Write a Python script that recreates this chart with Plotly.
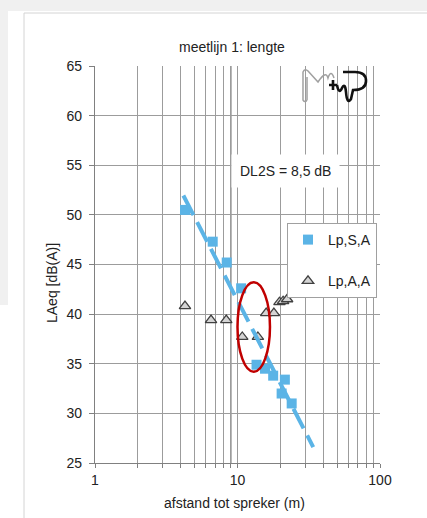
import plotly.graph_objects as go

# ---------------- data ----------------
title_text = "meetlijn 1: lengte"
x_title = "afstand tot spreker (m)"
y_title = "LAeq [dB(A)]"
note_text = "DL2S = 8,5 dB"

# Lp,S,A  (blue squares)
s_dist = [4.28, 6.7, 8.4, 10.6, 13.6, 15.6, 17.8, 21.5, 20.4, 24.0]
s_level = [50.5, 47.3, 45.2, 42.6, 34.9, 34.5, 33.8, 33.4, 32.0, 31.0]

# Lp,A,A  (triangles)
a_dist = [4.28, 6.52, 8.34, 10.8, 13.9, 15.9, 18.0, 19.7, 20.9, 22.3]
a_level = [40.8, 39.4, 39.4, 37.7, 37.7, 40.1, 40.1, 41.2, 41.3, 41.5]

# dashed regression line (end points)
fit_dist = [4.17, 34.0]
fit_level = [51.95, 26.6]

# highlighted region (red ellipse)
ell_dist = [10.0, 16.9]
ell_level = [34.2, 43.2]

x_tickvals = [1, 10, 100]
y_tickvals = [25, 30, 35, 40, 45, 50, 55, 60, 65]

# ---------------- figure ----------------
W, H = 427, 518
L, R, T, B = 95, 47, 66, 55
PW, PH = W - L - R, H - T - B

def px(x):
    return (x - L) / PW

def py(y):
    return (H - B - y) / PH

BLUE = "#5bb4e6"
GRID = "#9c9c9c"
AXIS = "#808080"
TXT = "#404040"
FONT = "Liberation Sans, Arial, sans-serif"

fig = go.Figure()

fig.add_trace(go.Scatter(
    x=s_dist, y=s_level, mode="markers", name="Lp,S,A",
    legendgroup="s",
    marker=dict(symbol="square", size=10, color=BLUE, line=dict(width=0)),
))
fig.add_trace(go.Scatter(
    x=a_dist, y=a_level, mode="markers", name="Lp,A,A",
    legendgroup="a",
    marker=dict(symbol="triangle-up", size=10, color="#d4d4d4",
                line=dict(width=1.3, color="#404040")),
))
fig.add_trace(go.Scatter(
    x=fit_dist, y=fit_level, mode="lines", showlegend=False,
    line=dict(color=BLUE, width=4, dash="22px,8px"),
))

shapes = []
# page background pieces
shapes.append(dict(type="rect", xref="paper", yref="paper", x0=px(0), x1=px(W),
                   y0=py(0), y1=py(11), fillcolor="#f0f0f0", line=dict(width=0), layer="below"))
shapes.append(dict(type="rect", xref="paper", yref="paper", x0=px(0), x1=px(8),
                   y0=py(0), y1=py(305), fillcolor="#f0f0f0", line=dict(width=0), layer="below"))
shapes.append(dict(type="line", xref="paper", yref="paper", x0=px(24), x1=px(24),
                   y0=py(13), y1=py(H), line=dict(color="#d4d4d4", width=1), layer="below"))
shapes.append(dict(type="line", xref="paper", yref="paper", x0=px(24), x1=px(W),
                   y0=py(13), y1=py(13), line=dict(color="#d4d4d4", width=1), layer="below"))
# darker grid line near 10
shapes.append(dict(type="line", xref="x", yref="paper", x0=9, x1=9, y0=0, y1=1,
                   line=dict(color="#6a6a6a", width=1), layer="below"))
# red ellipse
shapes.append(dict(type="circle", xref="x", yref="y", x0=ell_dist[0], x1=ell_dist[1],
                   y0=ell_level[0], y1=ell_level[1], line=dict(color="#c00000", width=2.5)))

# logo (decoration)
def path(points):
    s = ""
    for cmd, pts in points:
        s += cmd + " " + " ".join(f"{px(a):.4f},{py(b):.4f}" for a, b in pts) + " "
    return s.strip()

gray_logo = path([
    ("M", [(307, 100)]), ("Q", [(305, 103), (303, 100)]), ("L", [(303, 72)]),
    ("Q", [(305, 68), (308, 71)]), ("L", [(318, 82), (323, 74)]),
    ("Q", [(326, 70), (328, 78)]), ("Q", [(331, 69), (334, 78)]),
    ("M", [(307, 100)]), ("L", [(307, 77), (318, 88), (323, 80)]),
])
black_logo = path([
    ("M", [(329, 85)]), ("L", [(337, 85)]),
    ("M", [(333, 80)]), ("L", [(333, 90)]),
    ("M", [(337, 85)]), ("Q", [(339, 95), (342, 88)]),
    ("Q", [(345, 82), (346, 92)]), ("Q", [(347, 105), (351, 99)]),
    ("L", [(353, 90)]), ("Q", [(366, 90), (366, 81)]),
    ("Q", [(366, 72), (355, 72)]), ("L", [(343, 72)]),
])
shapes.append(dict(type="path", xref="paper", yref="paper", path=gray_logo,
                   line=dict(color="#a0a0a0", width=1.5)))
shapes.append(dict(type="path", xref="paper", yref="paper", path=black_logo,
                   line=dict(color="#111111", width=2.6)))

annotations = [
    dict(text=title_text, xref="paper", yref="paper", x=px(232), y=py(47),
         showarrow=False, font=dict(size=14, color="#222222", family=FONT),
         xanchor="center", yanchor="middle"),
    dict(text=x_title, xref="paper", yref="paper", x=px(234), y=py(503),
         showarrow=False, font=dict(size=14, color="#222222", family=FONT),
         xanchor="center", yanchor="middle"),
    dict(text=y_title, xref="paper", yref="paper", x=px(52), y=py(283),
         showarrow=False, textangle=-90, font=dict(size=14, color="#222222", family=FONT),
         xanchor="center", yanchor="middle"),
    dict(text=note_text, xref="paper", yref="paper", x=px(285), y=py(171),
         showarrow=False, font=dict(size=14, color="#222222", family=FONT),
         xanchor="center", yanchor="middle", bgcolor="white", borderpad=8),
]

fig.update_layout(
    width=W, height=H,
    margin=dict(l=L, r=R, t=T, b=B, pad=0),
    paper_bgcolor="white", plot_bgcolor="white",
    font=dict(family=FONT, size=14, color=TXT),
    showlegend=True,
    legend=dict(x=px(287), y=py(223), xanchor="left", yanchor="top",
                bgcolor="white", bordercolor="#a0a0a0", borderwidth=1,
                font=dict(size=14, color="#222222", family=FONT),
                traceorder="grouped", tracegroupgap=20, itemwidth=30),
    shapes=shapes,
    annotations=annotations,
)

fig.update_xaxes(
    type="log", range=[0, 2], tickvals=x_tickvals, ticktext=["1", "10", "100"],
    showgrid=True, gridcolor=GRID, gridwidth=1,
    showline=True, linecolor=AXIS, linewidth=1.2,
    ticks="outside", ticklen=4, tickcolor=AXIS,
    minor=dict(dtick="D1", showgrid=True, gridcolor=GRID, gridwidth=1,
               ticks="outside", ticklen=4, tickcolor=AXIS),
    tickfont=dict(size=14, color="#222222"), zeroline=False,
)
fig.update_yaxes(
    range=[25, 65], tickvals=y_tickvals,
    showgrid=True, gridcolor=GRID, gridwidth=1,
    showline=True, linecolor=AXIS, linewidth=1.2,
    ticks="outside", ticklen=5, tickcolor=AXIS,
    tickfont=dict(size=14, color="#222222"), zeroline=False,
    ticklabelstandoff=4,
)

fig.write_html(
    "out.html",
    config={"displayModeBar": False},
    post_script="document.body.style.margin='0';document.body.style.overflow='hidden';",
)
